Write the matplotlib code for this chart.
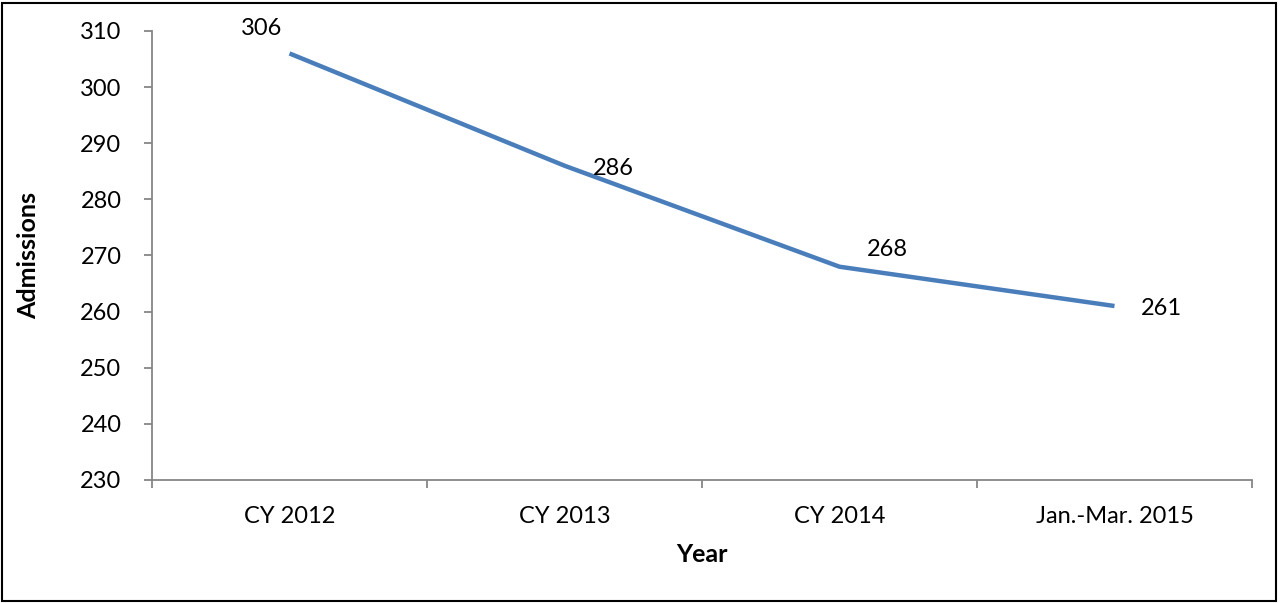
import matplotlib
matplotlib.use("Agg")
import matplotlib.pyplot as plt
from matplotlib.patches import Rectangle

categories = ["CY 2012", "CY 2013", "CY 2014", "Jan.-Mar. 2015"]
admissions = [306, 286, 268, 261]
y_ticks = [230, 240, 250, 260, 270, 280, 290, 300, 310]
label_offsets = [(-28, 25), (49, -3), (48, 17), (47, -2)]

plt.rcParams['font.family'] = ['Lato', 'DejaVu Sans']

fig = plt.figure(figsize=(12.8, 6.03), dpi=100)
ax = fig.add_axes([152/1280, 123/603, 1100/1280, 449/603])

x = list(range(len(categories)))
ax.plot(x, admissions, color="#4A7EBB", lw=3.2, solid_capstyle="butt")

for xi, v, (dx, dy) in zip(x, admissions, label_offsets):
    ax.annotate(str(v), (xi, v), xytext=(dx, dy), textcoords="offset pixels",
                ha="center", va="center", fontsize=17, color="black")

ax.set_xlim(-0.5, len(categories) - 0.5)
ax.set_ylim(230, 310)
ax.set_yticks(y_ticks)
ax.set_xticks([i - 0.5 for i in range(len(categories) + 1)])
ax.set_xticklabels([])
ax.set_xticks(x, minor=True)
ax.set_xticklabels(categories, minor=True)

spine_color = "#868686"
for s in ["top", "right"]:
    ax.spines[s].set_visible(False)
for s in ["left", "bottom"]:
    ax.spines[s].set_color(spine_color)
    ax.spines[s].set_linewidth(1.3)

ax.tick_params(axis="y", which="major", direction="out", length=6, width=1.3,
               color=spine_color, labelsize=17, pad=16)
ax.tick_params(axis="x", which="major", direction="out", length=6, width=1.3,
               color=spine_color)
ax.tick_params(axis="x", which="minor", length=0, labelsize=17, pad=19)

ax.set_xlabel("Year", fontsize=18, fontweight="bold", labelpad=11)
ax.set_ylabel("Admissions", fontsize=18, fontweight="bold", labelpad=29)

fig.patches.append(Rectangle((2/1280, 2/603), 1274/1280, 598/603,
                             transform=fig.transFigure, fill=False,
                             edgecolor="black", lw=1.5))

fig.savefig("out.png", dpi=100)
